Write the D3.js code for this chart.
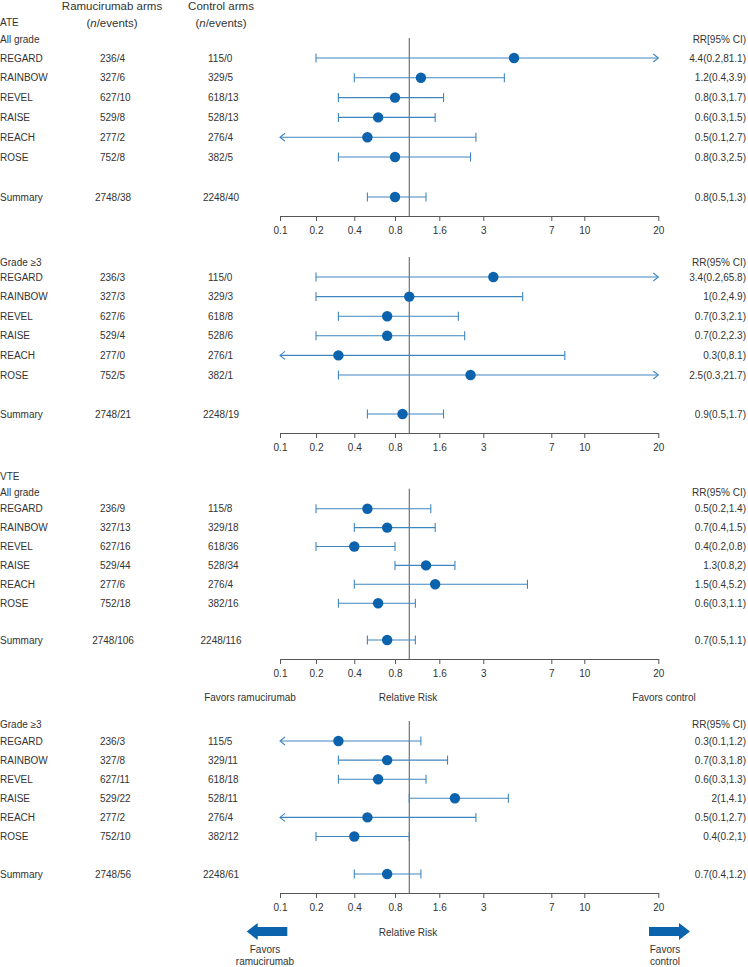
<!DOCTYPE html>
<html><head><meta charset="utf-8">
<script src="https://cdn.jsdelivr.net/npm/d3@7"></script>
<style>
html,body{margin:0;padding:0;background:#fff;}
svg{display:block;}
</style></head>
<body>
<svg id="chart" width="748" height="967"></svg>
<script>
// ---------- DATA ----------
const studies = ["REGARD","RAINBOW","REVEL","RAISE","REACH","ROSE","Summary"];
const ramN = [236,327,627,529,277,752,2748];
const ctlN = [115,329,618,528,276,382,2248];

// ATE, all grade
const ateAllRamEv = [4,6,10,8,2,8,38];
const ateAllCtlEv = [0,5,13,13,4,5,40];
const ateAllRR = [4.4,1.2,0.8,0.6,0.5,0.8,0.8];
const ateAllLo = [0.2,0.4,0.3,0.3,0.1,0.3,0.5];
const ateAllHi = [81.1,3.9,1.7,1.5,2.7,2.5,1.3];

// ATE, grade >=3
const ate3RamEv = [3,3,6,4,0,5,21];
const ate3CtlEv = [0,3,8,6,1,1,19];
const ate3RR = [3.4,1,0.7,0.7,0.3,2.5,0.9];
const ate3Lo = [0.2,0.2,0.3,0.2,0,0.3,0.5];
const ate3Hi = [65.8,4.9,2.1,2.3,8.1,21.7,1.7];

// VTE, all grade
const vteAllRamEv = [9,13,16,44,6,18,106];
const vteAllCtlEv = [8,18,36,34,4,16,116];
const vteAllRR = [0.5,0.7,0.4,1.3,1.5,0.6,0.7];
const vteAllLo = [0.2,0.4,0.2,0.8,0.4,0.3,0.5];
const vteAllHi = [1.4,1.5,0.8,2,5.2,1.1,1.1];

// VTE, grade >=3
const vte3RamEv = [3,8,11,22,2,10,56];
const vte3CtlEv = [5,11,18,11,4,12,61];
const vte3RR = [0.3,0.7,0.6,2,0.5,0.4,0.7];
const vte3Lo = [0.1,0.3,0.3,1,0.1,0.2,0.4];
const vte3Hi = [1.2,1.8,1.3,4.1,2.7,1,1.2];

const tickValues = [0.1,0.2,0.4,0.8,1.6,3,7,10,20];
const tickLabels = ["0.1","0.2","0.4","0.8","1.6","3","7","10","20"];

// ---------- LAYOUT ----------
const tickPixels = [280,316,354.3,395,439.3,483.3,551.3,584.3,658.3];
const x = d3.scaleLog().domain(tickValues).range(tickPixels);
const xMin = tickValues[0], xMax = tickValues[tickValues.length-1];

const panels = [
  {title:"ATE", sub:"All grade", rrHead:"RR[95% CI)", titleY:22, headY:39, row0:58, step:19.8, sumY:197, axisY:216,
   ram:ateAllRamEv, ctl:ateAllCtlEv, rr:ateAllRR, lo:ateAllLo, hi:ateAllHi},
  {title:null, sub:"Grade \u22653", rrHead:"RR(95% CI)", headY:262, row0:277, step:19.6, sumY:414, axisY:433,
   ram:ate3RamEv, ctl:ate3CtlEv, rr:ate3RR, lo:ate3Lo, hi:ate3Hi},
  {title:"VTE", sub:"All grade", rrHead:"RR(95% CI)", titleY:476, headY:492, row0:508.7, step:18.9, sumY:640, axisY:659,
   ram:vteAllRamEv, ctl:vteAllCtlEv, rr:vteAllRR, lo:vteAllLo, hi:vteAllHi, favorsLine:true},
  {title:null, sub:"Grade \u22653", rrHead:"RR(95% CI)", headY:724, row0:741, step:19.1, sumY:874, axisY:893,
   ram:vte3RamEv, ctl:vte3CtlEv, rr:vte3RR, lo:vte3Lo, hi:vte3Hi, bottom:true}
];

const TEXT = "#333";
const LINE = "#3f86c0";
const DOT = "#0b62ad";
const FONT = "'Liberation Sans', Arial, Helvetica, sans-serif";

const svg = d3.select("#chart").attr("font-family", FONT);

function txt(g, s, xx, yy, anchor, size){
  return g.append("text").attr("x", xx).attr("y", yy).attr("dy","0.35em")
    .attr("text-anchor", anchor || "start").attr("font-size", size || 10)
    .attr("fill", TEXT).text(s);
}

// column headers
const hdr = svg.append("g");
txt(hdr, "Ramucirumab arms", 112, 5.5, "middle", 11.5);
txt(hdr, "Control arms", 221, 5.5, "middle", 11.5);
[112,221].forEach(cx => {
  const t = hdr.append("text").attr("x", cx).attr("y", 23).attr("dy","0.35em")
    .attr("text-anchor","middle").attr("font-size",11.5).attr("fill",TEXT);
  t.append("tspan").text("(");
  t.append("tspan").attr("font-style","italic").text("n");
  t.append("tspan").text("/events)");
});

panels.forEach(p => {
  const g = svg.append("g");
  if (p.title) txt(g, p.title, 0, p.titleY, "start", 10);
  txt(g, p.sub, 0, p.headY, "start", 10);
  txt(g, p.rrHead, 746, p.headY, "end", 10);

  const rowY = i => i < 6 ? p.row0 + i*p.step : p.sumY;

  // reference line at RR = 1
  g.append("line").attr("x1", x(1)).attr("x2", x(1))
    .attr("y1", p.row0 - 20).attr("y2", p.axisY)
    .attr("stroke", "#555").attr("stroke-width", 1);

  studies.forEach((s, i) => {
    const y = rowY(i);
    txt(g, s, 0, y, "start", 10);
    const ramS = ramN[i] + "/" + p.ram[i];
    const ctlS = ctlN[i] + "/" + p.ctl[i];
    if (i < 6) {
      txt(g, ramS, 100, y, "start", 10);
      txt(g, ctlS, 208, y, "start", 10);
    } else {
      txt(g, ramS, 113, y, "middle", 10);
      txt(g, ctlS, 221, y, "middle", 10);
    }
    txt(g, `${p.rr[i]}(${p.lo[i]},${p.hi[i]})`, 746, y, "end", 10);

    const lo = p.lo[i], hi = p.hi[i];
    const arrowL = lo <= xMin, arrowR = hi >= xMax;
    const xl = arrowL ? x(xMin) : x(lo);
    const xr = arrowR ? x(xMax) : x(hi);
    g.append("line").attr("x1", xl).attr("x2", xr).attr("y1", y).attr("y2", y)
      .attr("stroke", LINE).attr("stroke-width", 1.1);
    if (arrowL) {
      g.append("path").attr("d", `M${xl+5},${y-4}L${xl},${y}L${xl+5},${y+4}`)
        .attr("fill","none").attr("stroke", LINE).attr("stroke-width", 1.1);
    } else {
      g.append("line").attr("x1", xl).attr("x2", xl).attr("y1", y-4.5).attr("y2", y+4.5)
        .attr("stroke", LINE).attr("stroke-width", 1.1);
    }
    if (arrowR) {
      g.append("path").attr("d", `M${xr-5},${y-4}L${xr},${y}L${xr-5},${y+4}`)
        .attr("fill","none").attr("stroke", LINE).attr("stroke-width", 1.1);
    } else {
      g.append("line").attr("x1", xr).attr("x2", xr).attr("y1", y-4.5).attr("y2", y+4.5)
        .attr("stroke", LINE).attr("stroke-width", 1.1);
    }
    g.append("circle").attr("cx", x(p.rr[i])).attr("cy", y).attr("r", 5.2).attr("fill", DOT);
  });

  // axis
  const ax = g.append("g").attr("transform", `translate(0,${p.axisY})`)
    .call(d3.axisBottom(x).tickValues(tickValues)
      .tickFormat((d, i) => tickLabels[i]).tickSizeInner(5).tickSizeOuter(0).tickPadding(6));
  ax.select(".domain").attr("stroke", "#555");
  ax.selectAll(".tick line").attr("stroke", "#555");
  ax.selectAll(".tick text").attr("fill", TEXT).attr("font-size", 10).attr("font-family", FONT);

  if (p.favorsLine) {
    txt(g, "Favors ramucirumab", 250, p.axisY + 38, "middle", 10);
    txt(g, "Relative Risk", 408, p.axisY + 38, "middle", 10);
    txt(g, "Favors control", 664, p.axisY + 38, "middle", 10);
  }
  if (p.bottom) {
    const ay = p.axisY + 38.5;
    txt(g, "Relative Risk", 408, ay + 0.5, "middle", 10);
    // left arrow
    const lt = 246.7, lb = 287.3, hl = 11, bh = 4.5, hh = 8.5;
    g.append("path").attr("d",
      `M${lt},${ay}L${lt+hl},${ay-hh}L${lt+hl},${ay-bh}L${lb},${ay-bh}L${lb},${ay+bh}L${lt+hl},${ay+bh}L${lt+hl},${ay+hh}Z`)
      .attr("fill", DOT);
    const rt = 690, rb = 649;
    g.append("path").attr("d",
      `M${rt},${ay}L${rt-hl},${ay-hh}L${rt-hl},${ay-bh}L${rb},${ay-bh}L${rb},${ay+bh}L${rt-hl},${ay+bh}L${rt-hl},${ay+hh}Z`)
      .attr("fill", DOT);
    txt(g, "Favors", 265, ay + 18, "middle", 10);
    txt(g, "ramucirumab", 265, ay + 29.5, "middle", 10);
    txt(g, "Favors", 665, ay + 18, "middle", 10);
    txt(g, "control", 665, ay + 29.5, "middle", 10);
  }
});
</script>
</body></html>
